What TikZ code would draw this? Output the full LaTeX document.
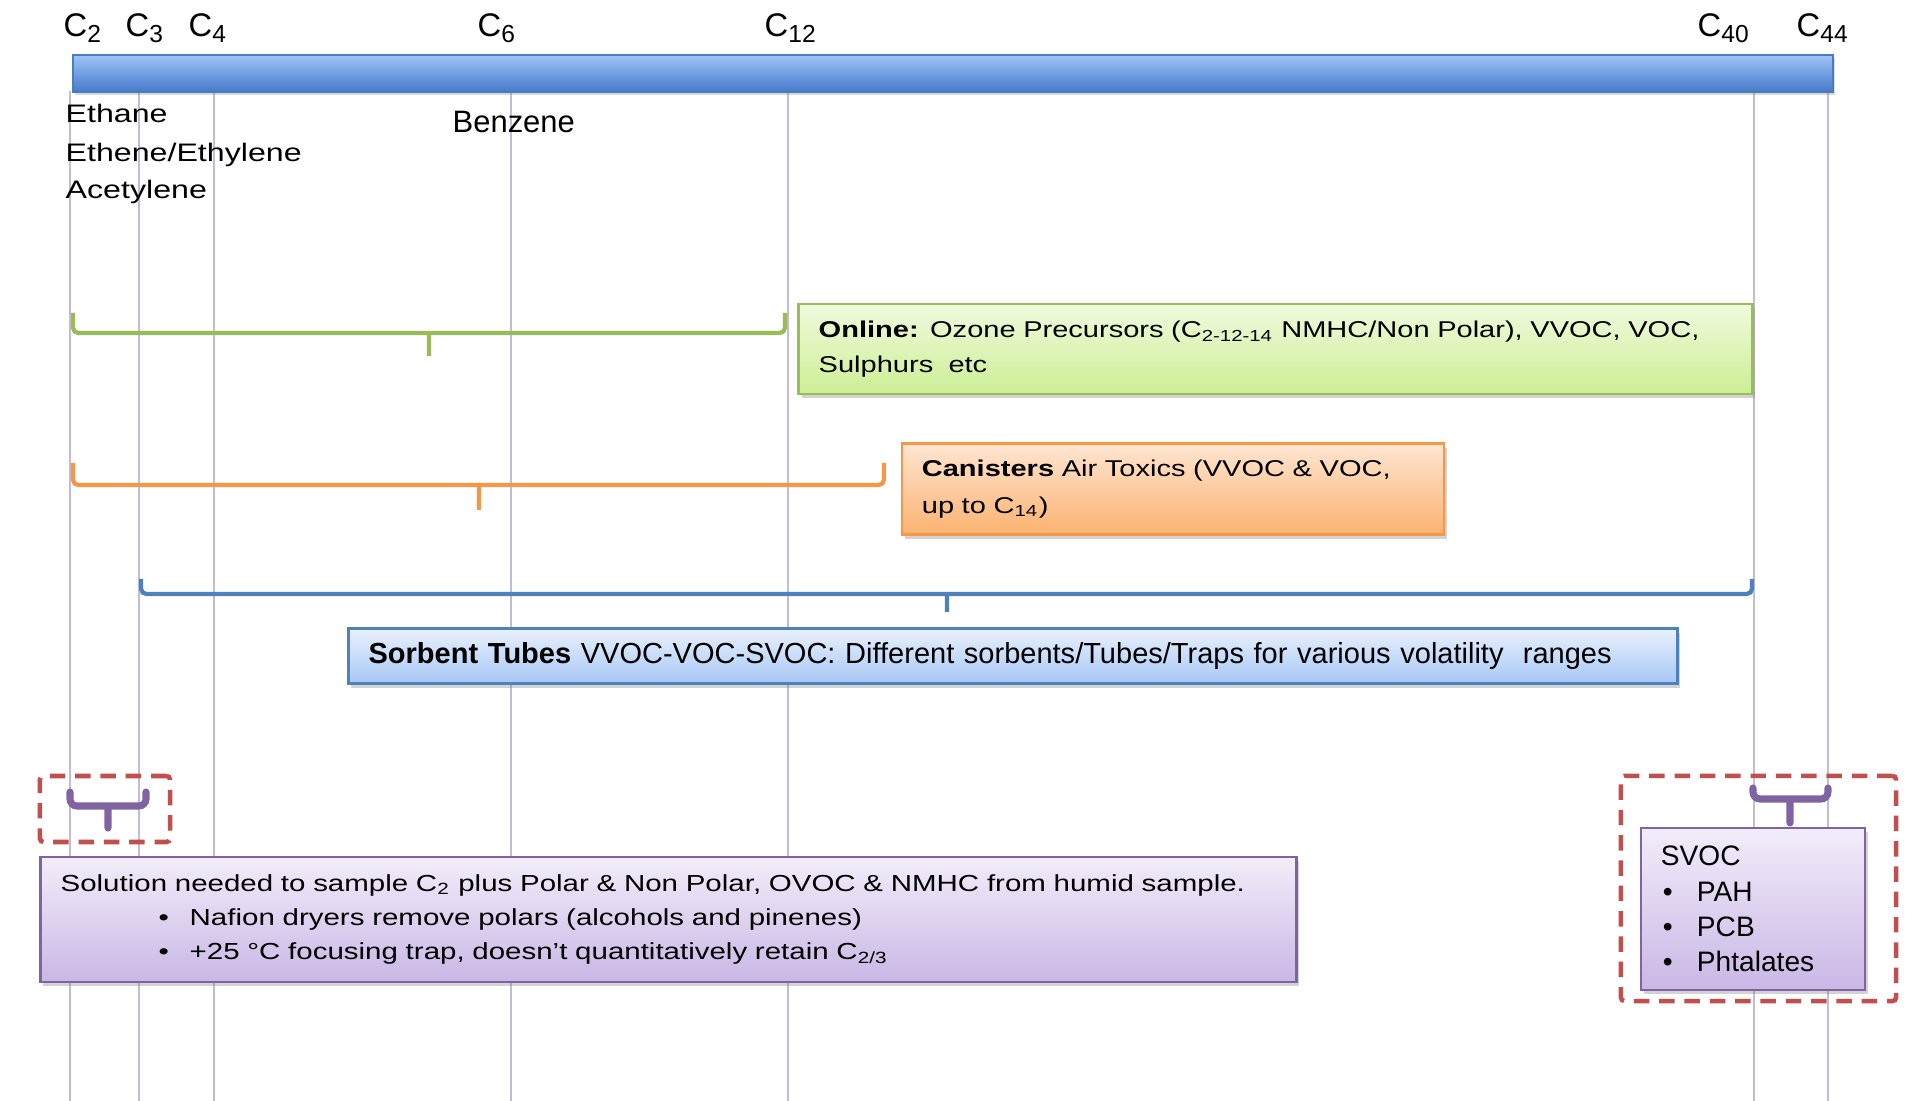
\documentclass[tikz,border=0pt]{standalone}
\usepackage{fontspec}
\setmainfont{Liberation Sans}
\newfontfamily\widefont{Liberation Sans}[FakeStretch=1.27]
\usetikzlibrary{shadows}

\definecolor{bartop}{HTML}{9EC3F8}
\definecolor{barbottom}{HTML}{467ACA}
\definecolor{barline}{HTML}{4A7EBB}
\definecolor{gridgray}{HTML}{C2BCD8}
\definecolor{olgreen}{HTML}{9BBB59}
\definecolor{cnorange}{HTML}{F79646}
\definecolor{stblue}{HTML}{4F81BD}
\definecolor{stpurple}{HTML}{8064A2}
\definecolor{dashred}{HTML}{C0504D}

\newcommand{\csub}[1]{\raisebox{-1.7pt}{\fontsize{7}{8}\selectfont #1}}

\tikzset{
  gridline/.style={gridgray, line width=0.45pt},
  scalebar/.style={draw=barline, line width=0.5pt, top color=bartop, bottom color=barbottom,
    drop shadow={shadow xshift=0.6pt, shadow yshift=-1pt, opacity=0.3}},
  clabel/.style={anchor=base west, inner sep=0pt, font=\fontsize{9.3}{11}\selectfont},
  cmpd/.style={anchor=base west, inner sep=0pt, font=\widefont\fontsize{7.2}{9}\selectfont},
  rangebrace/.style={line width=1.2pt, rounded corners=1.5pt},
  trapbrace/.style={stpurple, line width=2pt, line cap=round, rounded corners=2pt},
  dashframe/.style={draw=dashred, line width=1.3pt, dash pattern=on 4.4pt off 2.8pt, rounded corners=1pt},
  infobox/.style={line width=0.7pt, align=left, inner xsep=0.2cm, inner ysep=0pt,
    drop shadow={shadow xshift=0.8pt, shadow yshift=-1.2pt, opacity=0.35}},
  onlinebox/.style={infobox, draw=olgreen, top color={rgb,255:red,240;green,250;blue,222},
    bottom color={rgb,255:red,204;green,239;blue,148},
    font=\widefont\fontsize{6.5}{9.9}\selectfont},
  canbox/.style={infobox, draw=cnorange, top color={rgb,255:red,255;green,230;blue,210},
    bottom color={rgb,255:red,251;green,178;blue,112},
    font=\widefont\fontsize{6.5}{10.4}\selectfont},
  tubebox/.style={infobox, draw=stblue, top color={rgb,255:red,234;green,241;blue,253},
    bottom color={rgb,255:red,166;green,199;blue,245},
    font=\fontsize{8.25}{10}\selectfont},
  trapbox/.style={infobox, draw=stpurple, top color={rgb,255:red,243;green,237;blue,250},
    bottom color={rgb,255:red,201;green,183;blue,229}},
}

\begin{document}
\begin{tikzpicture}[x=0.01cm, y=-0.01cm]
  \useasboundingbox (0,0) rectangle (1908,1101);

  \foreach \x in {70,139,214,511,788,1754,1828}
    \draw[gridline] (\x,91) -- (\x,1101);

  \node[scalebar, minimum width=17.59cm, minimum height=0.37cm, anchor=north west] (cbar) at (72,54) {};

  \node[clabel] (c2) at (63,37) {C\csub{2}};
  \node[clabel] (c3) at (125,37) {C\csub{3}};
  \node[clabel] (c4) at (188,37) {C\csub{4}};
  \node[clabel] (c6) at (477,37) {C\csub{6}};
  \node[clabel] (c12) at (764,37) {C\csub{12}};
  \node[clabel] (c40) at (1697,37) {C\csub{40}};
  \node[clabel] (c44) at (1796,37) {C\csub{44}};

  \node[cmpd] (ethane) at (65,123) {Ethane};
  \node[cmpd] (ethene) at (65,162) {Ethene/Ethylene};
  \node[cmpd] (acetylene) at (65,199) {Acetylene};
  \node[anchor=base west, inner sep=0pt, font=\fontsize{8.8}{10}\selectfont] (benzene) at (452,133) {Benzene};

  \begin{scope}[rangebrace]
    \draw[olgreen] (73,313) -- (73,333) -- (785,333) -- (785,313) (429,333) -- (429,356);
    \draw[cnorange] (73,463) -- (73,485) -- (884,485) -- (884,463) (479,485) -- (479,510);
    \draw[stblue] (141,579) -- (141,594) -- (1752,594) -- (1752,579) (947,594) -- (947,612);
  \end{scope}

  \node[onlinebox, minimum width=9.53cm, minimum height=0.9cm, text width=9.13cm] (online) at (1275.5,349)
    {\textbf{Online:} Ozone Precursors (C\textsubscript{2-12-14} NMHC/Non Polar), VVOC, VOC,\\ Sulphurs\ \ etc};
  \node[canbox, minimum width=5.42cm, minimum height=0.91cm, text width=5.02cm] (canister) at (1173,489)
    {\textbf{Canisters} Air Toxics (VVOC \& VOC,\\ up to C\textsubscript{14})};
  \node[tubebox, minimum width=13.28cm, minimum height=0.55cm, text width=12.88cm] (sorbent) at (1013,656)
    {\textbf{Sorbent Tubes} VVOC-VOC-SVOC: Different sorbents/Tubes/Traps for various volatility\ \ ranges};

  \node[dashframe, minimum width=1.3cm, minimum height=0.66cm] (c2frame) at (105,809) {};
  \node[dashframe, minimum width=2.75cm, minimum height=2.25cm] (svocframe) at (1758.5,888.5) {};

  \draw[trapbrace] (70,792) -- (70,806) -- (146,806) -- (146,792) (108,806) -- (108,828);

  \node[trapbox, minimum width=12.55cm, minimum height=1.25cm, text width=12.15cm,
    font=\widefont\fontsize{6.6}{9.7}\selectfont] (solution) at (668.5,919.5)
    {Solution needed to sample C\textsubscript{2} plus Polar \& Non Polar, OVOC \& NMHC from humid sample.\\
     \hspace*{0.98cm}\makebox[0.31cm][l]{\textbullet}Nafion dryers remove polars (alcohols and pinenes)\\
     \hspace*{0.98cm}\makebox[0.31cm][l]{\textbullet}+25 °C focusing trap, doesn’t quantitatively retain C\textsubscript{2/3}};
  \node[trapbox, minimum width=2.24cm, minimum height=1.62cm, text width=1.84cm,
    font=\fontsize{8}{10}\selectfont] (svoc) at (1753,909)
    {SVOC\\
     \hspace*{0.02cm}\makebox[0.34cm][l]{\textbullet}PAH\\
     \hspace*{0.02cm}\makebox[0.34cm][l]{\textbullet}PCB\\
     \hspace*{0.02cm}\makebox[0.34cm][l]{\textbullet}Phtalates};

  \draw[trapbrace] (1753,788) -- (1753,799) -- (1828,799) -- (1828,788) (1790,799) -- (1790,823);
\end{tikzpicture}
\end{document}
